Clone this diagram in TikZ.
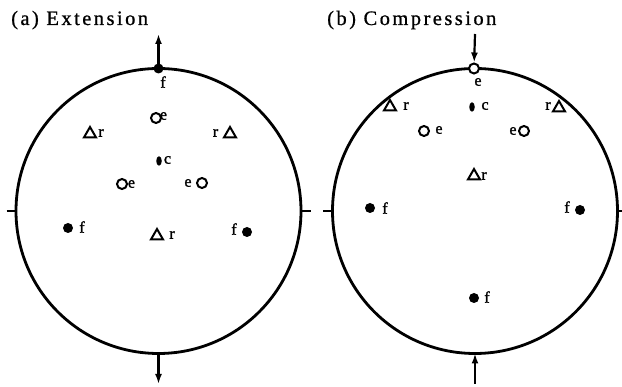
\documentclass[tikz,border=0pt]{standalone}
\usepackage{fontspec}
\setmainfont{Liberation Serif}
\newfontfamily\spacedfont[LetterSpace=12,FakeBold=0.8]{Liberation Serif}
\newfontfamily\polefont[FakeBold=1.6]{Liberation Serif}
\usetikzlibrary{shapes.geometric,arrows.meta}
\definecolor{ink}{RGB}{0,0,0}

\begin{document}
\begin{tikzpicture}[x=1pt,y=-1pt,
 every node/.style={inner sep=0pt},
 rim/.style={ink,line width=2.8pt},
 tick/.style={ink,line width=1.8pt},
 load/.style={ink,line width=2.2pt,-{Latex[length=10pt,width=7pt]}},
 opendot/.style={circle,draw=ink,fill=white,line width=2pt,minimum size=10pt},
 soliddot/.style={circle,fill=ink,minimum size=10pt},
 cdot/.style={ellipse,fill=ink,minimum width=5.5pt,minimum height=9.5pt},
 tri/.style={regular polygon,regular polygon sides=3,draw=ink,line width=2pt,
   minimum size=14pt,line join=miter},
 lab/.style={font=\polefont\fontsize{16}{16}\selectfont},
 title/.style={font=\spacedfont\fontsize{20.5}{20.5}\selectfont,anchor=base west}]
\useasboundingbox (0,0) rectangle (622,387);

% (a) extension
\node[title] (ta) at (11,25) {(a) Extension};
\begin{scope}[shift={(158.5,211)}]
 \draw[rim] (0,0) circle[radius=142.5];
 \coordinate (atop) at (0,-142.5);
 \coordinate (abot) at (0,142.5);
 \coordinate (aup) at (0,-177);
 \coordinate (adown) at (0,173);
 \coordinate (awl) at (-152,0);
 \coordinate (awr) at (152,0);
 \draw[tick] (awl)--(-142.5,0);
 \draw[tick] (142.5,0)--(awr);
 \draw[load] (atop)--(aup);
 \draw[load] (abot)--(adown);
 % poles
 \foreach \n/\x/\y in {af1/0/-142.5,af2/-90.5/17,af3/88.5/21}
  {\node[soliddot] (\n) at (\x,\y) {};}
 \foreach \n/\x/\y in {ae1/-2.5/-93,ae2/-36.5/-27,ae3/43.5/-28}
  {\node[opendot] (\n) at (\x,\y) {};}
 \foreach \n/\x/\y in {ar1/-68.5/-77,ar2/71.5/-77,ar3/-1.5/25}
  {\node[tri] (\n) at (\x,\y) {};}
 \node[cdot] (ac) at (0.5,-50) {};
 % labels
 \foreach \n/\x/\y/\t in {laf1/4.5/-129/f,laf2/-76.5/16/f,laf3/75.5/18/f,
   lae1/5/-95/e,lae2/-27/-27/e,lae3/29.5/-28/e,
   lar1/-57.5/-78/r,lar2/57/-78/r,lar3/13.5/24/r,lac/9/-51/c}
  {\node[lab] (\n) at (\x,\y) {\t};}
\end{scope}

% (b) compression
\node[title] (tb) at (327,25) {(b) Compression};
\begin{scope}[shift={(475,211)}]
 \draw[rim] (0,0) circle[radius=142.5];
 \coordinate (btop) at (0,-142.5);
 \coordinate (bbot) at (0,142.5);
 \coordinate (bup) at (0,-177);
 \coordinate (bdown) at (0,173);
 \coordinate (bwl) at (-152,0);
 \coordinate (bwr) at (152,0);
 \draw[tick] (bwl)--(-142.5,0);
 \draw[tick] (142.5,0)--(bwr);
 \foreach \n/\x/\y in {be1/-1/-142.5,be2/-51/-80,be3/49/-80}
  {\node[opendot] (\n) at (\x,\y) {};}
 \draw[load] (bup)--(be1);
 \draw[load] (bdown)--(bbot);
 \foreach \n/\x/\y in {bf1/-105/-3,bf2/105/-1,bf3/-1/87}
  {\node[soliddot] (\n) at (\x,\y) {};}
 \foreach \n/\x/\y in {br1/-85/-104,br2/84/-103,br3/-1/-35}
  {\node[tri] (\n) at (\x,\y) {};}
 \node[cdot] (bc) at (-3,-104) {};
 \foreach \n/\x/\y/\t in {lbf1/-90/-3/f,lbf2/92/-4/f,lbf3/12/86/f,
   lbe1/3/-129/e,lbe2/-36/-81/e,lbe3/38/-80/e,
   lbr1/-69/-105/r,lbr2/73/-105/r,lbr3/9/-35/r,lbc/10/-105/c}
  {\node[lab] (\n) at (\x,\y) {\t};}
\end{scope}
\end{tikzpicture}
\end{document}
